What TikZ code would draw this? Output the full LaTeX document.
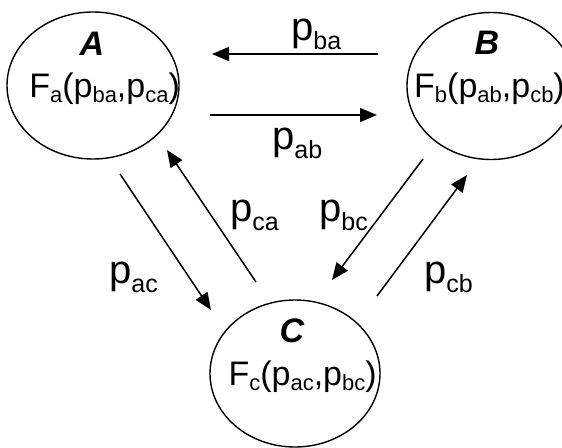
\documentclass[tikz,border=0pt]{standalone}
\usepackage{fontspec}
\setmainfont{Liberation Sans}
\usetikzlibrary{shapes.geometric,arrows.meta}
\newcommand{\fsub}[1]{\raisebox{-5pt}{\fontsize{22}{22}\selectfont #1}}
\newcommand{\lsub}[1]{\raisebox{-9pt}{\fontsize{25}{25}\selectfont #1}}
\tikzset{
  agent/.style={ellipse, draw, line width=1.4pt, minimum width=172pt, minimum height=147pt, inner sep=0pt},
  title/.style={anchor=base, inner sep=0pt, font=\fontsize{34}{34}\selectfont\bfseries\itshape},
  func/.style={anchor=base, inner sep=0pt, font=\fontsize{34}{34}\selectfont},
  plabel/.style={anchor=base west, inner sep=0pt, font=\fontsize{40}{40}\selectfont},
  arr/.style={-{Triangle[length=17pt,width=14pt]}, line width=1.5pt}
}
\begin{document}
\begin{tikzpicture}[x=1pt,y=-1pt]
\useasboundingbox (0,0) rectangle (562,447);
% agents
\node[agent] (A) at (93,85.5) {};
\node[agent, minimum width=168pt] (B) at (491,86) {};
\node[agent, minimum width=170pt] (C) at (295,373.5) {};
\node[title] (At) at (92,55) {A};
\node[title] (Bt) at (487,54) {B};
\node[title] (Ct) at (292,342) {C};
\node[func] (Af) at (104.6,97) {F\fsub{a}(p\fsub{ba},p\fsub{ca})};
\node[func] (Bf) at (489.5,97) {F\fsub{b}(p\fsub{ab},p\fsub{cb})};
\node[func] (Cf) at (302.6,385) {F\fsub{c}(p\fsub{ac},p\fsub{bc})};
% arrow end points
\coordinate (baS) at (378,54);  \coordinate (baE) at (212,54);
\coordinate (abS) at (210,115); \coordinate (abE) at (377,115);
\coordinate (acS) at (120,174); \coordinate (acE) at (211,310);
\coordinate (caS) at (256,282); \coordinate (caE) at (167,150);
\coordinate (bcS) at (423,159); \coordinate (bcE) at (332,280);
\coordinate (cbS) at (377,296); \coordinate (cbE) at (467,175);
\draw[arr] (baS) -- (baE);
\draw[arr] (abS) -- (abE);
\draw[arr] (acS) -- (acE);
\draw[arr] (caS) -- (caE);
\draw[arr] (bcS) -- (bcE);
\draw[arr] (cbS) -- (cbE);
% labels
\node[plabel] (lba) at (291,40.5) {p\lsub{ba}};
\node[plabel] (lab) at (272,149.5) {p\lsub{ab}};
\node[plabel] (lac) at (109,283.5) {p\lsub{ac}};
\node[plabel] (lca) at (230,221.5) {p\lsub{ca}};
\node[plabel] (lbc) at (319,221.5) {p\lsub{bc}};
\node[plabel] (lcb) at (424,283.5) {p\lsub{cb}};
\end{tikzpicture}
\end{document}
